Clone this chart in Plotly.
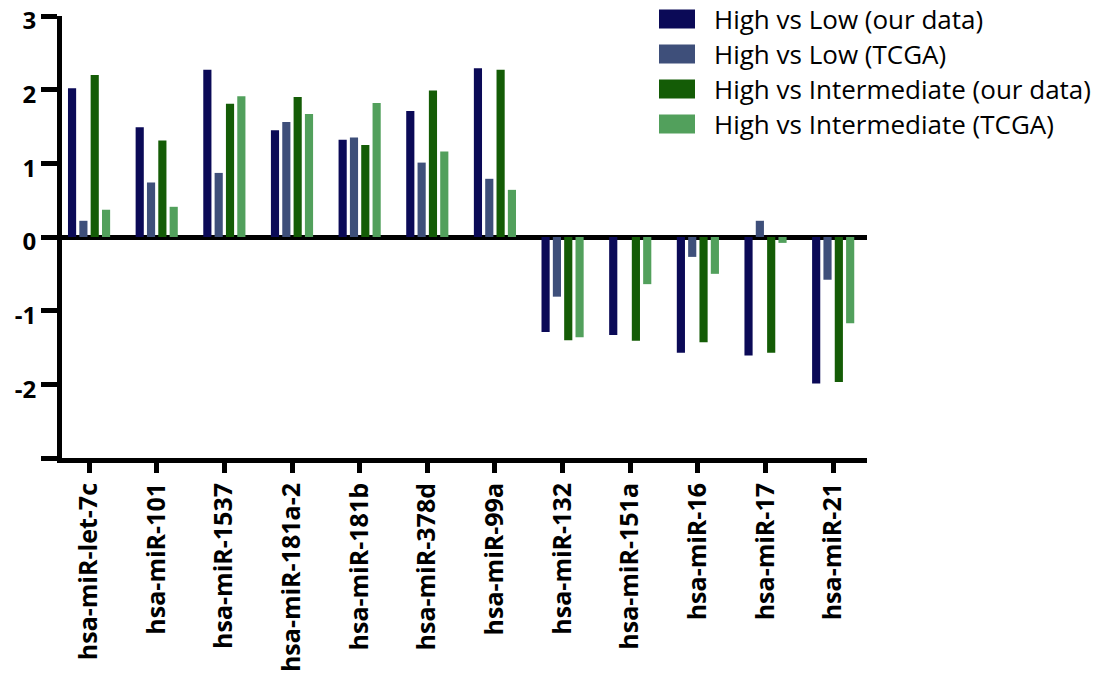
import plotly.graph_objects as go

categories = ["hsa-miR-let-7c", "hsa-miR-101", "hsa-miR-1537", "hsa-miR-181a-2",
              "hsa-miR-181b", "hsa-miR-378d", "hsa-miR-99a", "hsa-miR-132",
              "hsa-miR-151a", "hsa-miR-16", "hsa-miR-17", "hsa-miR-21"]

high_vs_low_ours = [2.02, 1.49, 2.27, 1.45, 1.32, 1.71, 2.29, -1.29, -1.33, -1.57, -1.61, -1.99]
high_vs_low_tcga = [0.22, 0.74, 0.87, 1.56, 1.35, 1.01, 0.79, -0.81, 0.0, -0.27, 0.22, -0.58]
high_vs_int_ours = [2.20, 1.31, 1.81, 1.90, 1.25, 1.99, 2.27, -1.40, -1.41, -1.43, -1.57, -1.97]
high_vs_int_tcga = [0.37, 0.41, 1.91, 1.67, 1.82, 1.16, 0.64, -1.36, -0.64, -0.50, -0.08, -1.17]

series_names = ["High vs Low (our data)", "High vs Low (TCGA)",
                "High vs Intermediate (our data)", "High vs Intermediate (TCGA)"]
series_values = [high_vs_low_ours, high_vs_low_tcga, high_vs_int_ours, high_vs_int_tcga]
series_colors = ["#0b0a57", "#3e4f7a", "#145c06", "#52a05c"]

y_tickvals = [-3, -2, -1, 0, 1, 2, 3]
y_ticktext = ["", "-2", "-1", "0", "1", "2", "3"]

# layout geometry (pixels)
W, H = 1104, 689
ML, MR, MT, MB = 62, 237, 16, 231
PW, PH = W - ML - MR, H - MT - MB


def px_x(px):
    return (px - ML) / PW


def px_y(py):
    return (H - MB - py) / PH


fig = go.Figure()
for name, vals, col in zip(series_names, series_values, series_colors):
    fig.add_trace(go.Bar(x=categories, y=vals, name=name, marker_color=col,
                         marker_line_width=0, showlegend=False))

# legend drawn as swatches + text (large rectangular swatches like the original)
shapes, annotations = [], []
for i, (name, col) in enumerate(zip(series_names, series_colors)):
    cy = 19 + 35 * i
    shapes.append(dict(type="rect", xref="paper", yref="paper",
                       x0=px_x(659), x1=px_x(695), y0=px_y(cy + 9.5), y1=px_y(cy - 9.5),
                       fillcolor=col, line=dict(width=0)))
    annotations.append(dict(xref="paper", yref="paper", x=px_x(712), y=px_y(cy),
                            xanchor="left", yanchor="middle", showarrow=False,
                            text=name, font=dict(size=26, family="Open Sans", color="black")))

fig.update_layout(
    width=W, height=H,
    margin=dict(l=ML, r=MR, t=MT, b=MB, autoexpand=False),
    paper_bgcolor="white", plot_bgcolor="white",
    barmode="group", bargap=0.33, bargroupgap=0.28,
    font=dict(family="Open Sans", color="black"),
    showlegend=False,
    shapes=shapes, annotations=annotations,
)
fig.update_xaxes(
    range=[-0.4, 11.5],
    showline=True, linecolor="black", linewidth=5,
    ticks="outside", ticklen=10, tickwidth=5, tickcolor="black",
    tickangle=-90, tickfont=dict(size=25, family="Open Sans", weight="bold"),
    showgrid=False, zeroline=False, automargin=False,
)
fig.update_yaxes(
    range=[-3, 3], tickvals=y_tickvals, ticktext=y_ticktext,
    showline=True, linecolor="black", linewidth=5,
    ticks="outside", ticklen=16, tickwidth=5, tickcolor="black",
    tickfont=dict(size=24, family="Open Sans", weight="bold"),
    ticklabeloverflow="allow", ticklabelshift=5,
    showgrid=False, zeroline=True, zerolinecolor="black", zerolinewidth=5,
    automargin=False,
)

fig.write_html("out.html", config={"displayModeBar": False},
               post_script="document.body.style.margin='0px';")
